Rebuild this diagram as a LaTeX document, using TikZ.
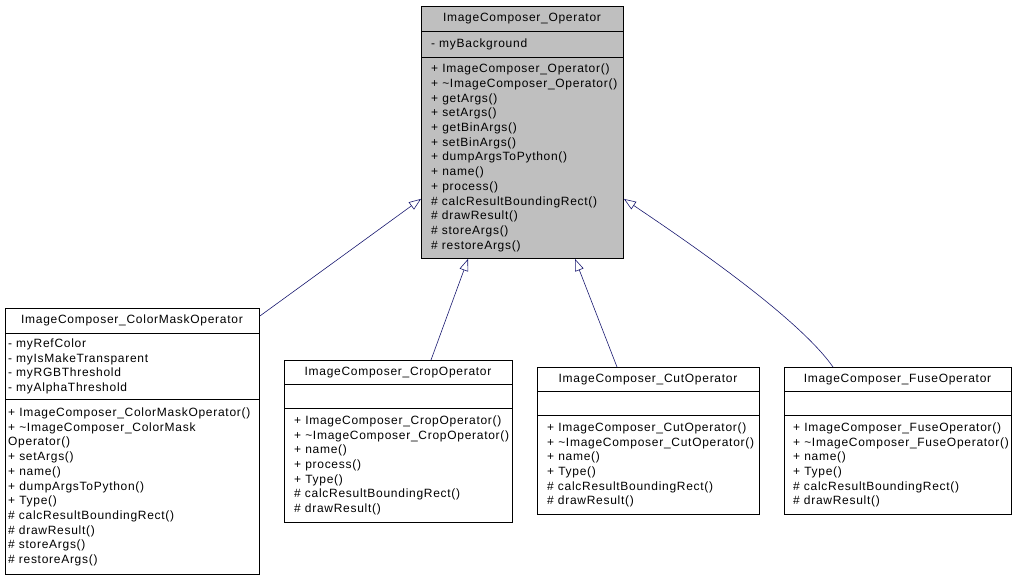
\documentclass[tikz,border=0pt]{standalone}
\usepackage{fontspec}
\setmainfont{Liberation Sans}[LetterSpace=6]
\usetikzlibrary{arrows.meta}
\definecolor{edgeblue}{HTML}{191970}
\definecolor{basegray}{HTML}{BFBFBF}
\newcommand{\umlfont}{\fontsize{12}{14.7}\selectfont}

\begin{document}
\begin{tikzpicture}[x=1pt,y=-1pt,font=\umlfont,
    classbox/.style={draw,line width=0.9pt,inner sep=0pt,anchor=north west},
    members/.style={anchor=north west,align=left,inner sep=0pt},
    heading/.style={anchor=base,inner sep=0pt},
    inherit/.style={edgeblue,line width=0.6pt,-{Triangle[open,length=12pt,width=9pt]}}]
  \useasboundingbox (0,0) rectangle (1019,580);

  % base class
  \node[classbox,fill=basegray,minimum width=202pt,minimum height=252pt] (op) at (421,6) {};
  \draw ([yshift=-25pt]op.north west) -- ([yshift=-25pt]op.north east);
  \draw ([yshift=-51pt]op.north west) -- ([yshift=-51pt]op.north east);
  \node[heading] (optitle) at (522,21.8) {ImageComposer\_Operator};
  \node[members] (opattr) at (431,38.6) {- myBackground};
  \node[members] (opmeth) at (431,63.9) {+ ImageComposer\_Operator()\\
    + \textasciitilde ImageComposer\_Operator()\\
    + getArgs()\\ + setArgs()\\ + getBinArgs()\\ + setBinArgs()\\
    + dumpArgsToPython()\\ + name()\\ + process()\\
    \# calcResultBoundingRect()\\ \# drawResult()\\ \# storeArgs()\\ \# restoreArgs()};

  % colour mask
  \node[classbox,minimum width=254pt,minimum height=266pt] (cm) at (5,308) {};
  \draw ([yshift=-25pt]cm.north west) -- ([yshift=-25pt]cm.north east);
  \draw ([yshift=-91pt]cm.north west) -- ([yshift=-91pt]cm.north east);
  \node[heading] (cmtitle) at (132,323.8) {ImageComposer\_ColorMaskOperator};
  \node[members] (cmattr) at (8,338.5) {- myRefColor\\ - myIsMakeTransparent\\
    - myRGBThreshold\\ - myAlphaThreshold};
  \node[members] (cmmeth) at (8,407.6) {+ ImageComposer\_ColorMaskOperator()\\
    + \textasciitilde ImageComposer\_ColorMask\\ Operator()\\
    + setArgs()\\ + name()\\ + dumpArgsToPython()\\ + Type()\\
    \# calcResultBoundingRect()\\ \# drawResult()\\ \# storeArgs()\\ \# restoreArgs()};

  % crop
  \node[classbox,minimum width=228pt,minimum height=162pt] (crop) at (284,360) {};
  \draw ([yshift=-24pt]crop.north west) -- ([yshift=-24pt]crop.north east);
  \draw ([yshift=-48pt]crop.north west) -- ([yshift=-48pt]crop.north east);
  \node[heading] (croptitle) at (398,375.3) {ImageComposer\_CropOperator};
  \node[members] (cropmeth) at (294,415.5) {+ ImageComposer\_CropOperator()\\
    + \textasciitilde ImageComposer\_CropOperator()\\
    + name()\\ + process()\\ + Type()\\
    \# calcResultBoundingRect()\\ \# drawResult()};

  % cut
  \node[classbox,minimum width=222pt,minimum height=147pt] (cut) at (537,367) {};
  \draw ([yshift=-24pt]cut.north west) -- ([yshift=-24pt]cut.north east);
  \draw ([yshift=-48pt]cut.north west) -- ([yshift=-48pt]cut.north east);
  \node[heading] (cuttitle) at (648,382.3) {ImageComposer\_CutOperator};
  \node[members] (cutmeth) at (547,422.4) {+ ImageComposer\_CutOperator()\\
    + \textasciitilde ImageComposer\_CutOperator()\\
    + name()\\ + Type()\\
    \# calcResultBoundingRect()\\ \# drawResult()};

  % fuse
  \node[classbox,minimum width=227pt,minimum height=147pt] (fuse) at (784,367) {};
  \draw ([yshift=-24pt]fuse.north west) -- ([yshift=-24pt]fuse.north east);
  \draw ([yshift=-48pt]fuse.north west) -- ([yshift=-48pt]fuse.north east);
  \node[heading] (fusetitle) at (897.5,382.3) {ImageComposer\_FuseOperator};
  \node[members] (fusemeth) at (793,422.4) {+ ImageComposer\_FuseOperator()\\
    + \textasciitilde ImageComposer\_FuseOperator()\\
    + name()\\ + Type()\\
    \# calcResultBoundingRect()\\ \# drawResult()};

  % inheritance
  \draw[inherit] ([yshift=-8pt]cm.north east) -- ([yshift=60pt]op.south west);
  \draw[inherit] ([xshift=147pt]crop.north west) -- ([xshift=47pt]op.south west);
  \draw[inherit] ([xshift=80pt]cut.north west) -- ([xshift=154pt]op.south west);
  \draw[inherit] ([xshift=49pt]fuse.north west) .. controls (800,320) and (700,250) .. ([yshift=60pt]op.south east);
\end{tikzpicture}
\end{document}
